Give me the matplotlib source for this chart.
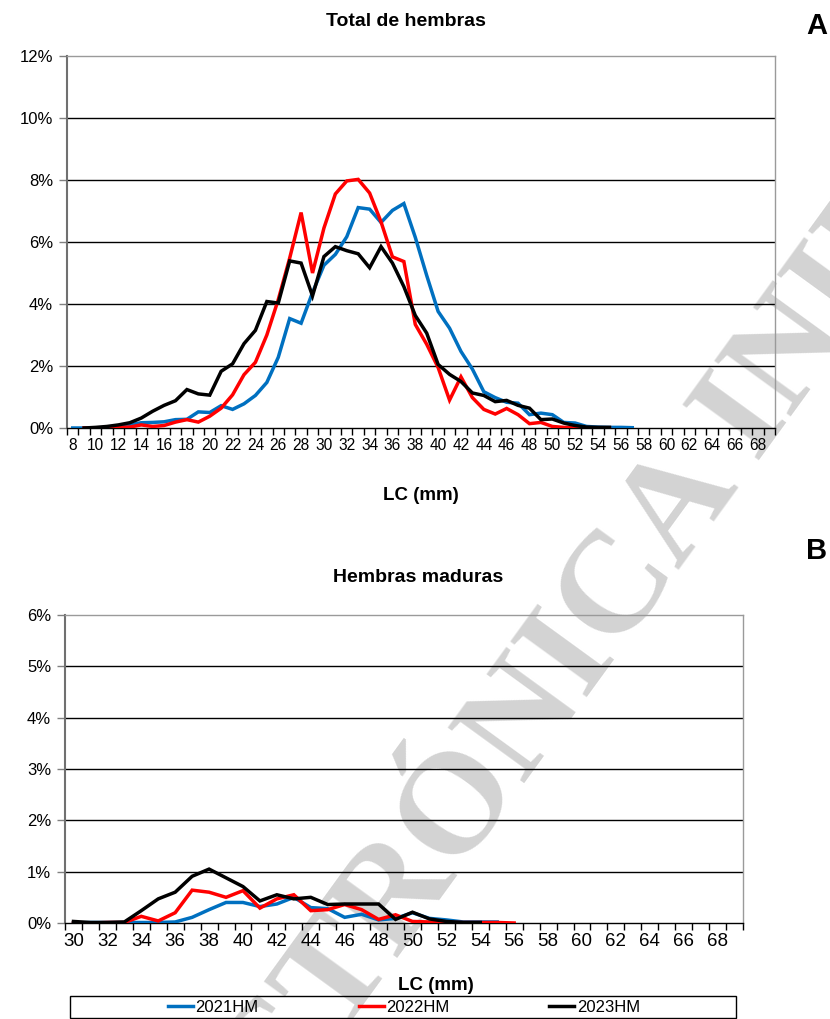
import numpy as np
import matplotlib
matplotlib.use('Agg')
import matplotlib.pyplot as plt
from matplotlib.patches import Rectangle
from matplotlib.ticker import FixedLocator, FuncFormatter

plt.rcParams.update({
    'font.family': ['Liberation Sans', 'DejaVu Sans'],
    'axes.linewidth': 1.0,
})

# ---- Panel A: total females, LC 8..69 mm ----
lc_total = list(range(8, 70))
total_2021 = {8: 0, 9: 0, 10: 0, 11: 0.02, 12: 0.05, 13: 0.1, 14: 0.17, 15: 0.18, 16: 0.2,
              17: 0.27, 18: 0.28, 19: 0.52, 20: 0.5, 21: 0.72, 22: 0.6, 23: 0.78, 24: 1.05,
              25: 1.47, 26: 2.28, 27: 3.53, 28: 3.38, 29: 4.37, 30: 5.25, 31: 5.6, 32: 6.17,
              33: 7.11, 34: 7.06, 35: 6.63, 36: 7.02, 37: 7.24, 38: 6.15, 39: 4.92, 40: 3.76,
              41: 3.22, 42: 2.47, 43: 1.9, 44: 1.17, 45: 0.98, 46: 0.83, 47: 0.8, 48: 0.43,
              49: 0.48, 50: 0.43, 51: 0.18, 52: 0.16, 53: 0.05, 54: 0.03, 55: 0.02, 56: 0.02,
              57: 0.01}
total_2022 = {9: 0, 10: 0, 11: 0, 12: 0.02, 13: 0.03, 14: 0.1, 15: 0.05, 16: 0.08, 17: 0.19,
              18: 0.27, 19: 0.19, 20: 0.38, 21: 0.64, 22: 1.07, 23: 1.72, 24: 2.12, 25: 3.0,
              26: 4.14, 27: 5.48, 28: 6.95, 29: 5.0, 30: 6.45, 31: 7.55, 32: 7.97, 33: 8.02,
              34: 7.58, 35: 6.65, 36: 5.52, 37: 5.37, 38: 3.34, 39: 2.7, 40: 1.95, 41: 0.9,
              42: 1.65, 43: 0.98, 44: 0.6, 45: 0.45, 46: 0.63, 47: 0.43, 48: 0.14, 49: 0.18,
              50: 0.05, 51: 0.02, 52: 0.02, 53: 0.01, 54: 0.01, 55: 0.01}
total_2023 = {9: 0, 10: 0.02, 11: 0.05, 12: 0.1, 13: 0.17, 14: 0.32, 15: 0.54, 16: 0.73,
              17: 0.88, 18: 1.24, 19: 1.1, 20: 1.06, 21: 1.83, 22: 2.07, 23: 2.72, 24: 3.15,
              25: 4.08, 26: 4.03, 27: 5.39, 28: 5.32, 29: 4.26, 30: 5.53, 31: 5.85, 32: 5.72,
              33: 5.62, 34: 5.17, 35: 5.85, 36: 5.32, 37: 4.56, 38: 3.63, 39: 3.06, 40: 2.05,
              41: 1.73, 42: 1.5, 43: 1.13, 44: 1.05, 45: 0.85, 46: 0.89, 47: 0.73, 48: 0.64,
              49: 0.27, 50: 0.29, 51: 0.16, 52: 0.08, 53: 0.03, 54: 0.02, 55: 0.02}

# ---- Panel B: mature females, LC 30..69 mm ----
lc_mature = list(range(30, 70))
mature_2021 = {30: 0.0, 31: 0.01, 32: 0.01, 33: 0.01, 34: 0.01, 35: 0.01, 36: 0.02, 37: 0.11,
               38: 0.26, 39: 0.4, 40: 0.4, 41: 0.32, 42: 0.37, 43: 0.5, 44: 0.3, 45: 0.28,
               46: 0.11, 47: 0.17, 48: 0.06, 49: 0.09, 50: 0.2, 51: 0.09, 52: 0.06, 53: 0.02,
               54: 0.02, 55: 0.02}
mature_2022 = {30: 0.0, 31: 0.0, 32: 0.01, 33: 0.01, 34: 0.13, 35: 0.04, 36: 0.2, 37: 0.64,
               38: 0.6, 39: 0.5, 40: 0.63, 41: 0.29, 42: 0.47, 43: 0.55, 44: 0.24, 45: 0.26,
               46: 0.36, 47: 0.26, 48: 0.07, 49: 0.16, 50: 0.03, 51: 0.02, 52: 0.01, 53: 0.01,
               54: 0.01, 55: 0.01, 56: 0.0}
mature_2023 = {30: 0.03, 31: 0.01, 32: 0.01, 33: 0.02, 34: 0.24, 35: 0.47, 36: 0.6, 37: 0.91,
               38: 1.05, 39: 0.88, 40: 0.71, 41: 0.43, 42: 0.55, 43: 0.47, 44: 0.5, 45: 0.36,
               46: 0.37, 47: 0.37, 48: 0.37, 49: 0.07, 50: 0.21, 51: 0.08, 52: 0.03, 53: 0.01,
               54: 0.01}

SERIES = ["2021HM", "2022HM", "2023HM"]
COLORS = {"2021HM": "#0070C0", "2022HM": "#FF0000", "2023HM": "#000000"}

W, H = 830, 1019


def to_array(cats, d):
    return np.array([d.get(c, np.nan) for c in cats], dtype=float)


def setup_axes(ax, cats, ymax, ystep, xfont):
    n = len(cats)
    ax.set_facecolor('none')
    ax.set_xlim(-0.5, n - 0.5)
    ax.set_ylim(0, ymax)
    yt = np.arange(0, ymax + 0.001, ystep)
    ax.set_yticks(yt)
    ax.yaxis.set_major_formatter(FuncFormatter(lambda v, p: f"{v:.0f}%"))
    for v in yt[1:-1]:
        ax.axhline(v, color='black', lw=1.0, zorder=1)
    # label every 2 mm at category centres, tick marks at category boundaries
    lab_idx = [i for i, c in enumerate(cats) if c % 2 == 0]
    ax.set_xticks(lab_idx)
    ax.set_xticklabels([str(cats[i]) for i in lab_idx], fontsize=xfont)
    ax.xaxis.set_minor_locator(FixedLocator(np.arange(-0.5, n, 1.0)))
    ax.tick_params(axis='x', which='major', length=0, pad=7)
    ax.tick_params(axis='x', which='minor', length=5, width=1, color='black', direction='out')
    ax.tick_params(axis='y', length=6, width=1, color='#808080', labelsize=12, pad=4)
    for s in ['top', 'right']:
        ax.spines[s].set_color('#9a9a9a')
    ax.spines['left'].set_color('#707070')
    ax.spines['left'].set_linewidth(1.5)
    ax.spines['bottom'].set_color('black')


fig = plt.figure(figsize=(W / 100, H / 100), dpi=100)

# watermark behind the charts
fig.text(0.667, 0.328, "ELECTRÓNICA INIDEP", rotation=54, rotation_mode='anchor',
         ha='center', va='center', fontsize=104, family='Liberation Serif',
         fontweight='bold', color='#d3d3d3', zorder=-1)

ax1 = fig.add_axes([67 / W, 1 - 428 / H, 708 / W, 372 / H])
ax2 = fig.add_axes([65 / W, 1 - 923 / H, 678 / W, 308 / H])

setup_axes(ax1, lc_total, 12, 2, 11.2)
setup_axes(ax2, lc_mature, 6, 1, 13.5)

x1 = np.arange(len(lc_total))
for name, d in zip(SERIES, [total_2021, total_2022, total_2023]):
    ax1.plot(x1, to_array(lc_total, d), color=COLORS[name], lw=2.5, zorder=3,
             solid_joinstyle='miter')

x2 = np.arange(len(lc_mature))
lines = []
for name, d in zip(SERIES, [mature_2021, mature_2022, mature_2023]):
    ln, = ax2.plot(x2, to_array(lc_mature, d), color=COLORS[name], lw=2.5, zorder=3,
                   label=name, solid_joinstyle='miter')
    lines.append(ln)

# titles and labels
fig.text(406 / W, 1 - 21 / H, "Total de hembras", ha='center', va='center',
         fontsize=14, fontweight='bold')
fig.text(817 / W, 1 - 26 / H, "A", ha='center', va='center', fontsize=21, fontweight='bold')
fig.text(421 / W, 1 - 496 / H, "LC (mm)", ha='center', va='center',
         fontsize=13.5, fontweight='bold')
fig.text(817 / W, 1 - 551 / H, "B", ha='center', va='center', fontsize=21, fontweight='bold')
fig.text(418 / W, 1 - 578 / H, "Hembras maduras", ha='center', va='center',
         fontsize=14, fontweight='bold')
fig.text(436 / W, 1 - 985 / H, "LC (mm)", ha='center', va='center',
         fontsize=13.5, fontweight='bold')

# legend box
fig.patches.append(Rectangle((70 / W, 1 - 1018 / H), 666 / W, 22 / H,
                             transform=fig.transFigure, fill=False,
                             edgecolor='black', lw=1.0))
fig.legend(lines, SERIES, loc='center', bbox_to_anchor=(404 / W, 1 - 1007 / H),
           ncol=3, frameon=False, fontsize=12, handlelength=1.5,
           handletextpad=0.15, columnspacing=6.0, borderpad=0, borderaxespad=0)

fig.savefig("out.png", dpi=100)
